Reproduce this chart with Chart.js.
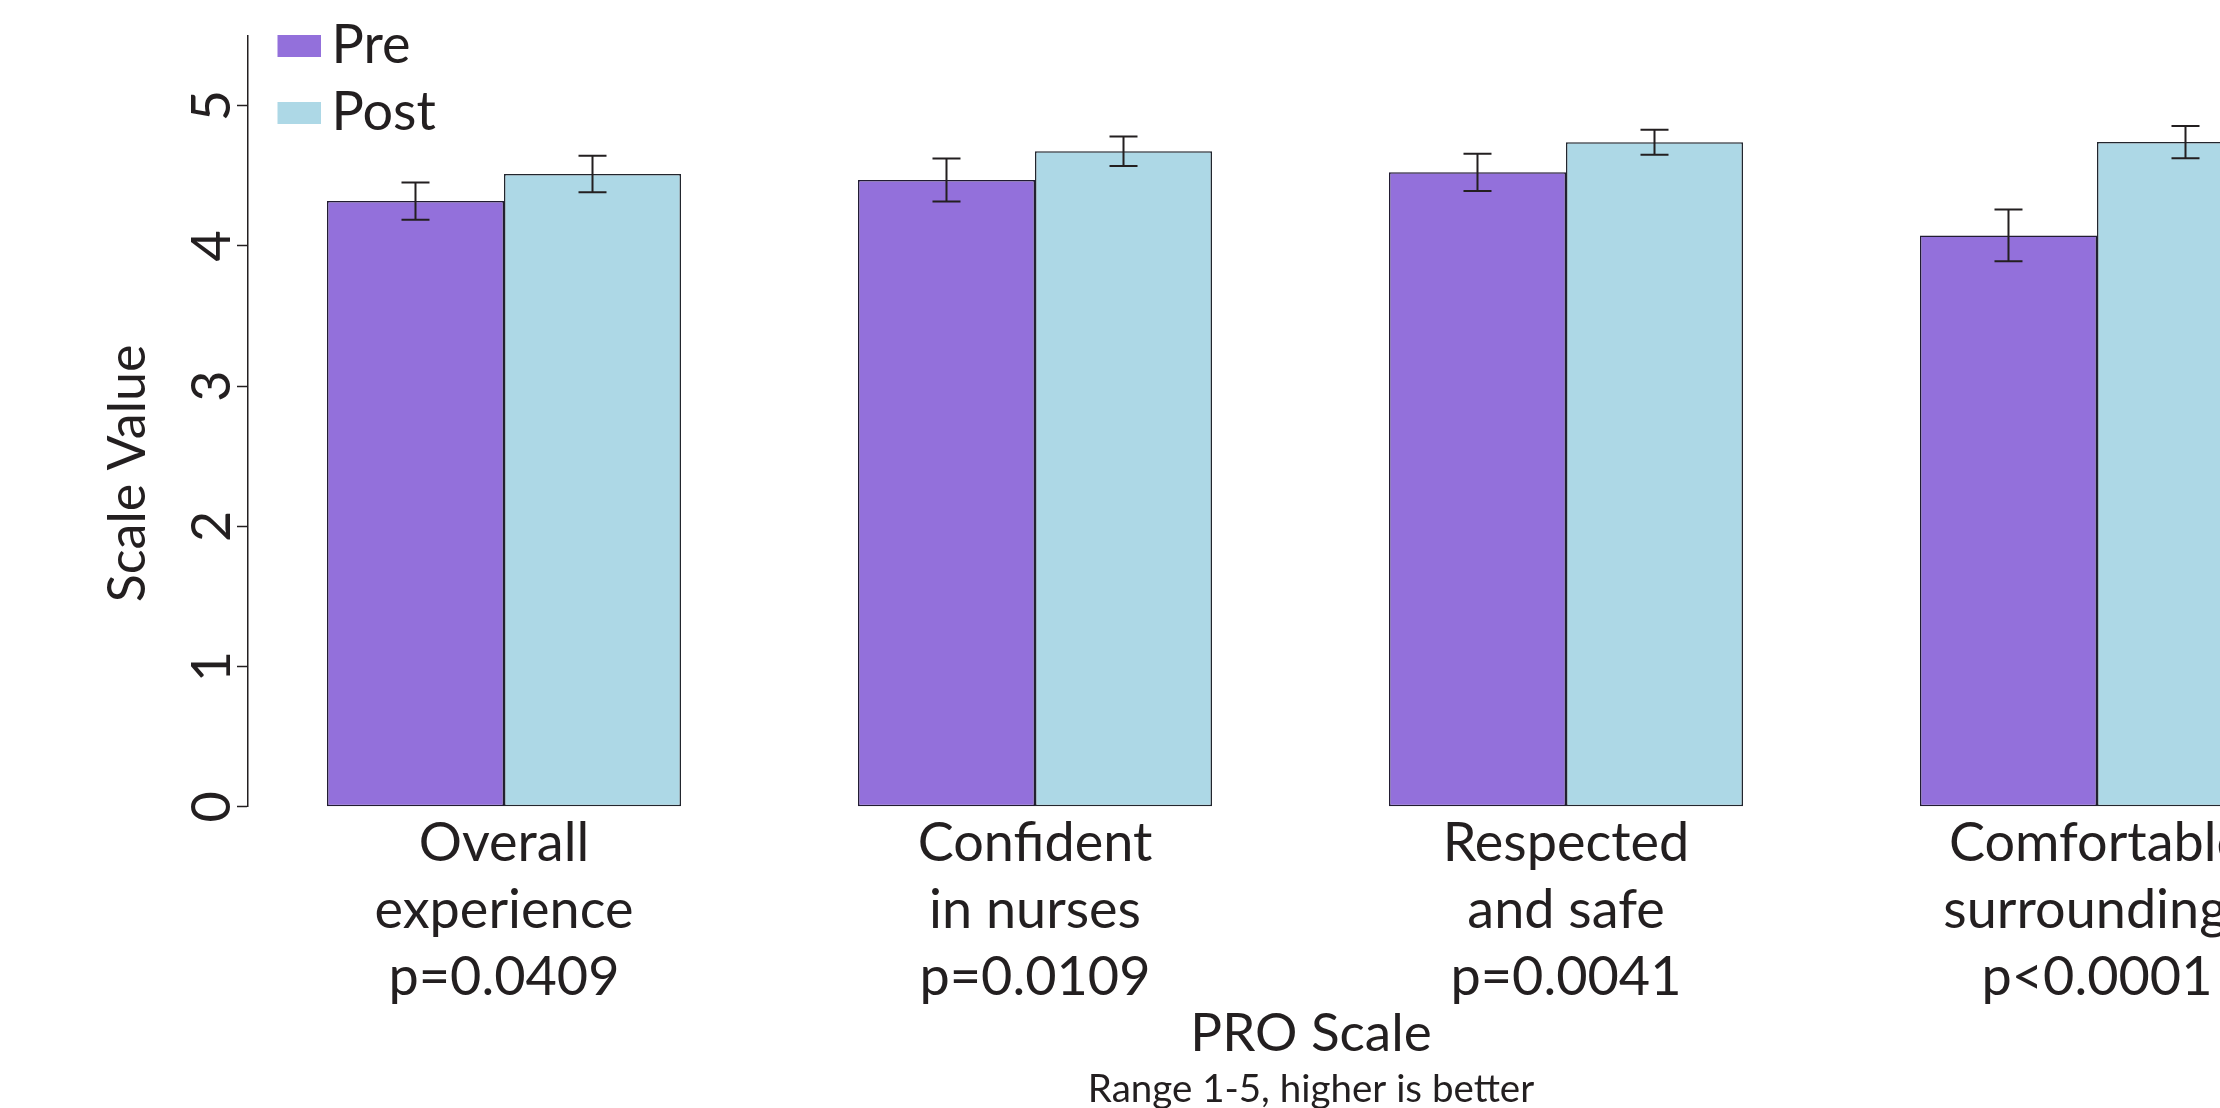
<!DOCTYPE html>
<html><head><meta charset="utf-8">
<style>html,body{margin:0;padding:0;background:#fff;overflow:hidden;} canvas{display:block;}</style>
<script src="https://cdn.jsdelivr.net/npm/chart.js@4.4.1/dist/chart.umd.min.js"></script>
</head><body>
<canvas id="c" width="2374" height="1120"></canvas>
<script>
// ---- data ----
const categories = [
  ["Overall", "experience", "p=0.0409"],
  ["Confident", "in nurses", "p=0.0109"],
  ["Respected", "and safe", "p=0.0041"],
  ["Comfortable", "surroundings", "p<0.0001"]
];
const seriesNames = ["Pre", "Post"];
const preValues  = [4.32, 4.47, 4.525, 4.075];
const preErrors  = [0.133, 0.153, 0.133, 0.184];
const postValues = [4.513, 4.675, 4.739, 4.741];
const postErrors = [0.13, 0.105, 0.089, 0.115];
const yTicks = [0, 1, 2, 3, 4, 5];
const yAxisTitle = "Scale Value";
const xAxisTitle = "PRO Scale";
const xAxisNote = "Range 1-5, higher is better";

// ---- style ----
const FONT = "Lato";
const INK = "#231f20";
const preColor = "#9370DB";
const postColor = "#ADD8E6";

function swatch(color) {
  const c = document.createElement("canvas");
  c.width = 47; c.height = 22;
  const g = c.getContext("2d");
  g.fillStyle = color; g.fillRect(0, 0, 47, 22);
  return c;
}
const swatches = [swatch(preColor), swatch(postColor)];

const errorBars = {
  id: "errorBars",
  afterDatasetsDraw(chart) {
    const ctx = chart.ctx, y = chart.scales.y;
    const errs = [preErrors, postErrors];
    const vals = [preValues, postValues];
    ctx.save();
    ctx.strokeStyle = INK; ctx.lineWidth = 2;
    chart.data.datasets.forEach((ds, di) => {
      chart.getDatasetMeta(di).data.forEach((bar, j) => {
        const yt = y.getPixelForValue(vals[di][j] + errs[di][j]);
        const yb = y.getPixelForValue(vals[di][j] - errs[di][j]);
        const x = bar.x, w = 14;
        ctx.beginPath();
        ctx.moveTo(x, yt); ctx.lineTo(x, yb);
        ctx.moveTo(x - w, yt); ctx.lineTo(x + w, yt);
        ctx.moveTo(x - w, yb); ctx.lineTo(x + w, yb);
        ctx.stroke();
      });
    });
    ctx.restore();
  }
};

const legendPlace = {
  id: "legendPlace",
  afterLayout(chart) {
    const lg = chart.legend; if (!lg) return;
    lg.left = 277.5; lg.right = lg.left + 500;
    lg.top = 6; lg.bottom = lg.top + 300;
  }
};

new Chart(document.getElementById("c"), {
  type: "bar",
  data: {
    datasets: [
      { label: seriesNames[0], data: preValues.map((v, i) => ({x: i, y: v})),
        backgroundColor: preColor, borderColor: "#221c33", borderWidth: 1.5, borderSkipped: false },
      { label: seriesNames[1], data: postValues.map((v, i) => ({x: i, y: v})),
        backgroundColor: postColor, borderColor: "#22262e", borderWidth: 1.5, borderSkipped: false }
    ]
  },
  options: {
    responsive: false,
    animation: false,
    events: [],
    categoryPercentage: 0.6667,
    barPercentage: 1.0,
    layout: { padding: { top: 35.6, left: 0, right: 0, bottom: 0 } },
    scales: {
      x: {
        type: "linear",
        offset: false,
        bounds: "data",
        min: -0.48211, max: 3.52166,
        afterBuildTicks: s => { s.ticks = categories.map((_, i) => ({ value: i })); },
        grid: { display: true, offset: false, drawOnChartArea: false, drawTicks: true, tickLength: 4, tickColor: "rgba(0,0,0,0)" },
        border: { display: false },
        ticks: {
          autoSkip: false, maxRotation: 0, minRotation: 0, padding: 0,
          color: INK, font: { family: FONT, size: 54, lineHeight: 1.235 },
          callback: v => categories[v]
        },
        title: { display: true, text: xAxisTitle, color: INK,
          font: { family: FONT, size: 53, lineHeight: 0.868 }, padding: { top: 0, bottom: 0 } }
      },
      y: {
        bounds: "data",
        min: 0, max: 5.5,
        afterBuildTicks: s => { s.ticks = yTicks.map(v => ({ value: v })); },
        afterFit: s => { s.width = 248; },
        grid: { display: true, drawOnChartArea: false, drawTicks: true, tickLength: 11, tickColor: INK, tickWidth: 1.5 },
        border: { display: true, color: INK, width: 1.5 },
        ticks: {
          minRotation: 90, maxRotation: 90, crossAlign: "center", padding: 9,
          color: INK, font: { family: FONT, size: 54, lineHeight: 0.9 }
        },
        title: { display: true, text: yAxisTitle + "\u2003\u2003  ", color: INK,
          font: { family: FONT, size: 52, lineHeight: 1.2 }, padding: { top: 97, bottom: 0 } }
      }
    },
    plugins: {
      tooltip: { enabled: false },
      title: { display: false },
      subtitle: {
        display: true, position: "bottom", fullSize: false, text: xAxisNote, color: INK,
        font: { family: FONT, size: 38.5, lineHeight: 1.2, weight: "normal" },
        padding: { top: 9.6, bottom: 7.4 }
      },
      legend: {
        position: "chartArea", align: "start",
        labels: {
          color: INK, font: { family: FONT, size: 54 },
          usePointStyle: true, boxWidth: 14, boxHeight: 22, padding: 13,
          generateLabels: chart => {
            const items = Chart.defaults.plugins.legend.labels.generateLabels(chart);
            items.forEach((it, i) => { it.pointStyle = swatches[i]; it.lineWidth = 0; });
            return items;
          }
        }
      }
    }
  },
  plugins: [errorBars, legendPlace]
});
</script>
</body></html>
